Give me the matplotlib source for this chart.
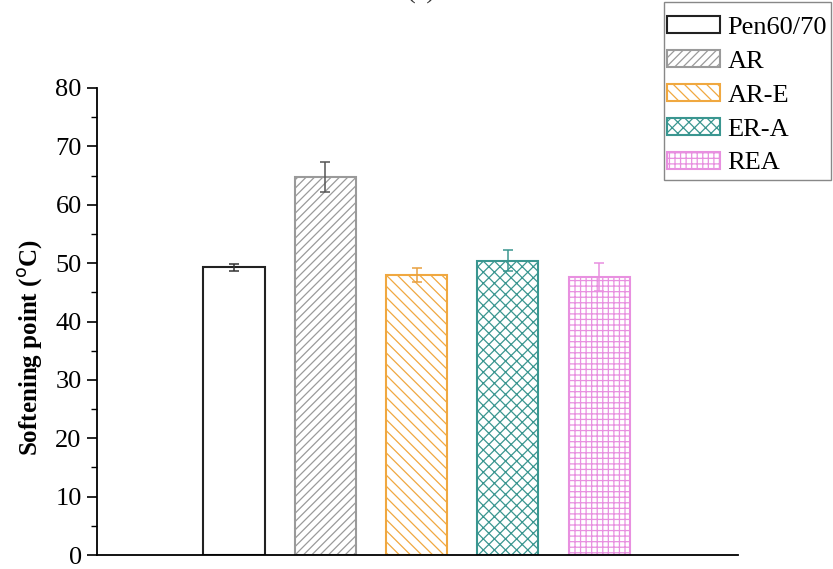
import matplotlib
matplotlib.use("Agg")
import matplotlib.pyplot as plt
from matplotlib.patches import Rectangle
from matplotlib.ticker import MultipleLocator

# Softening point of the binders
samples = ["Pen60/70", "AR", "AR-E", "ER-A", "REA"]
softening = [49.3, 64.7, 48.0, 50.4, 47.7]
errors = [0.6, 2.6, 1.2, 1.8, 2.4]

edge_colors = ["#222222", "#9a9a9a", "#f0a840", "#3a9690", "#e890e0"]
err_colors = ["#333333", "#555555", "#e8a040", "#3a9690", "#e890e0"]
hatches = ["", "////", "\\\\\\", "xxx", "+++"]

plt.rcParams["font.family"] = ["Liberation Serif", "DejaVu Serif"]
plt.rcParams["hatch.linewidth"] = 0.9

fig = plt.figure(figsize=(8.33, 5.69), dpi=100)
ax = fig.add_axes([97 / 833, 14 / 569, (738 - 97) / 833, (555 - 88) / 569])

x = list(range(len(samples)))
for xi, val, err, ec, erc, h, lab in zip(x, softening, errors, edge_colors,
                                          err_colors, hatches, samples):
    ax.bar(xi, val, width=0.67, facecolor="white", edgecolor=ec,
           hatch=h, linewidth=1.5, label=lab, zorder=2)
    ax.errorbar(xi, val, yerr=err, fmt="none", ecolor=erc, elinewidth=1.1,
                capsize=3.6, capthick=1.1, zorder=3)

ax.set_xlim(-1.5, 5.52)
ax.set_ylim(0, 80)
ax.yaxis.set_major_locator(MultipleLocator(10))
ax.yaxis.set_minor_locator(MultipleLocator(5))
ax.set_xticks([])

for side in ("top", "right"):
    ax.spines[side].set_visible(False)
for side in ("left", "bottom"):
    ax.spines[side].set_linewidth(1.3)

ax.tick_params(axis="y", which="major", direction="out", length=7, width=1.2,
               labelsize=19, pad=4)
ax.tick_params(axis="y", which="minor", direction="out", length=4, width=1.0)

ax.set_ylabel("Softening point ($^{\\mathrm{o}}$C)", fontsize=18,
              fontweight="bold")
ax.yaxis.set_label_coords(-0.081, 0.445)

leg = fig.legend(loc="upper right", bbox_to_anchor=(831 / 833, 1 - 12 / 569),
                 bbox_transform=fig.transFigure, borderaxespad=0,
                 fontsize=19, frameon=False,
                 handlelength=2.0, handleheight=0.62, handletextpad=0.3,
                 labelspacing=0.42, borderpad=0.15)

# legend frame
fig.patches.append(Rectangle((664 / 833, 1 - 180 / 569), 167 / 833, 178 / 569,
                             transform=fig.transFigure, facecolor="none",
                             edgecolor="#888888", linewidth=1.0))

fig.text(421 / 833, 1 + 8 / 569, "(a)", ha="center", va="center",
         fontsize=19, color="#333333")

fig.savefig("out.png", dpi=100)
